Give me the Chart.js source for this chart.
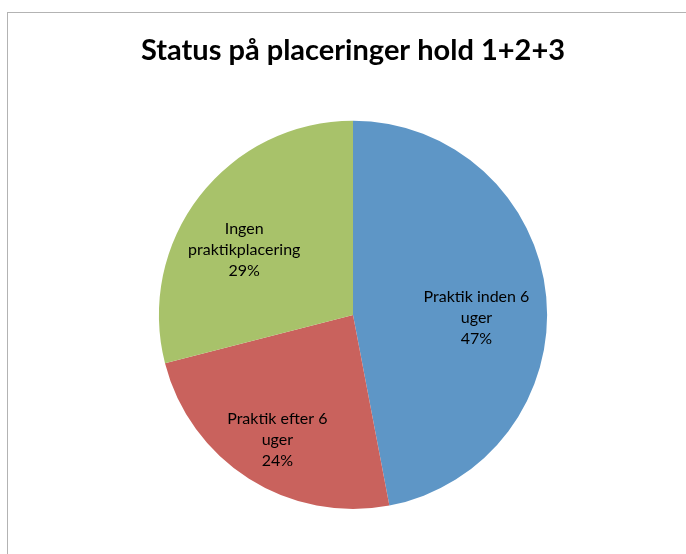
<!DOCTYPE html>
<html>
<head>
<meta charset="utf-8">
<script src="https://cdn.jsdelivr.net/npm/chart.js@4"></script>
<style>
  html, body { margin: 0; padding: 0; background: #fff; }
  #wrap { position: relative; width: 686px; height: 554px; overflow: hidden; }
  #frame { position: absolute; left: 7px; top: 12px; width: 700px; height: 600px;
           border-left: 1px solid #b3b3b3; border-top: 1px solid #b3b3b3; }
  #mycanvas { position: absolute; left: 0; top: 0; }
</style>
</head>
<body>
<div id="wrap">
  <div id="frame"></div>
  <canvas id="mycanvas" width="686" height="554"></canvas>
</div>
<script>
var categories = ["Praktik inden 6 uger", "Praktik efter 6 uger", "Ingen praktikplacering"];
var labelLines = [["Praktik inden 6", "uger"], ["Praktik efter 6", "uger"], ["Ingen", "praktikplacering"]];
var values = [47, 24, 29];
var colors = ["#5e96c6", "#c9625d", "#a8c26a"];

// draws category + percent inside each slice
var sliceLabels = {
	id: "sliceLabels",
	afterDatasetsDraw: function(chart) {
		var ctx = chart.ctx;
		var meta = chart.getDatasetMeta(0);
		var total = values.reduce(function(a, b){ return a + b; }, 0);
		ctx.save();
		ctx.font = "16px Lato";
		ctx.fillStyle = "#000";
		ctx.textAlign = "center";
		ctx.textBaseline = "middle";
		meta.data.forEach(function(arc, i) {
			var mid = (arc.startAngle + arc.endAngle) / 2;
			var r = arc.outerRadius * 0.67;
			var x = arc.x + Math.cos(mid) * r - 6;
			var y = arc.y + Math.sin(mid) * r + 15;
			var lines = labelLines[i].concat([Math.round(values[i] / total * 100) + "%"]);
			var lh = 21;
			var y0 = y - (lines.length - 1) * lh / 2;
			lines.forEach(function(t, j) {
				ctx.fillText(t, x, y0 + j * lh);
			});
		});
		ctx.restore();
	}
};

var ctx = document.getElementById("mycanvas");

var PieChart = new Chart(ctx, {
	type: 'pie',
	data: {
		labels: categories,
		datasets: [
			{
				data: values,
				backgroundColor: colors,
				borderWidth: 0
			}
		]
	},
	options: {
		responsive: false,
		animation: false,
		layout: {
			padding: { left: 20, right: 0, top: 0, bottom: 45 }
		},
		plugins: {
			legend: { display: false },
			tooltip: { enabled: false },
			title: {
				display: true,
				text: "Status på placeringer hold 1+2+3",
				color: "#000",
				font: { family: "Lato", size: 29, weight: "bold" },
				padding: { top: 33, bottom: 53 }
			}
		}
	},
	plugins: [sliceLabels]
});
</script>
</body>
</html>
